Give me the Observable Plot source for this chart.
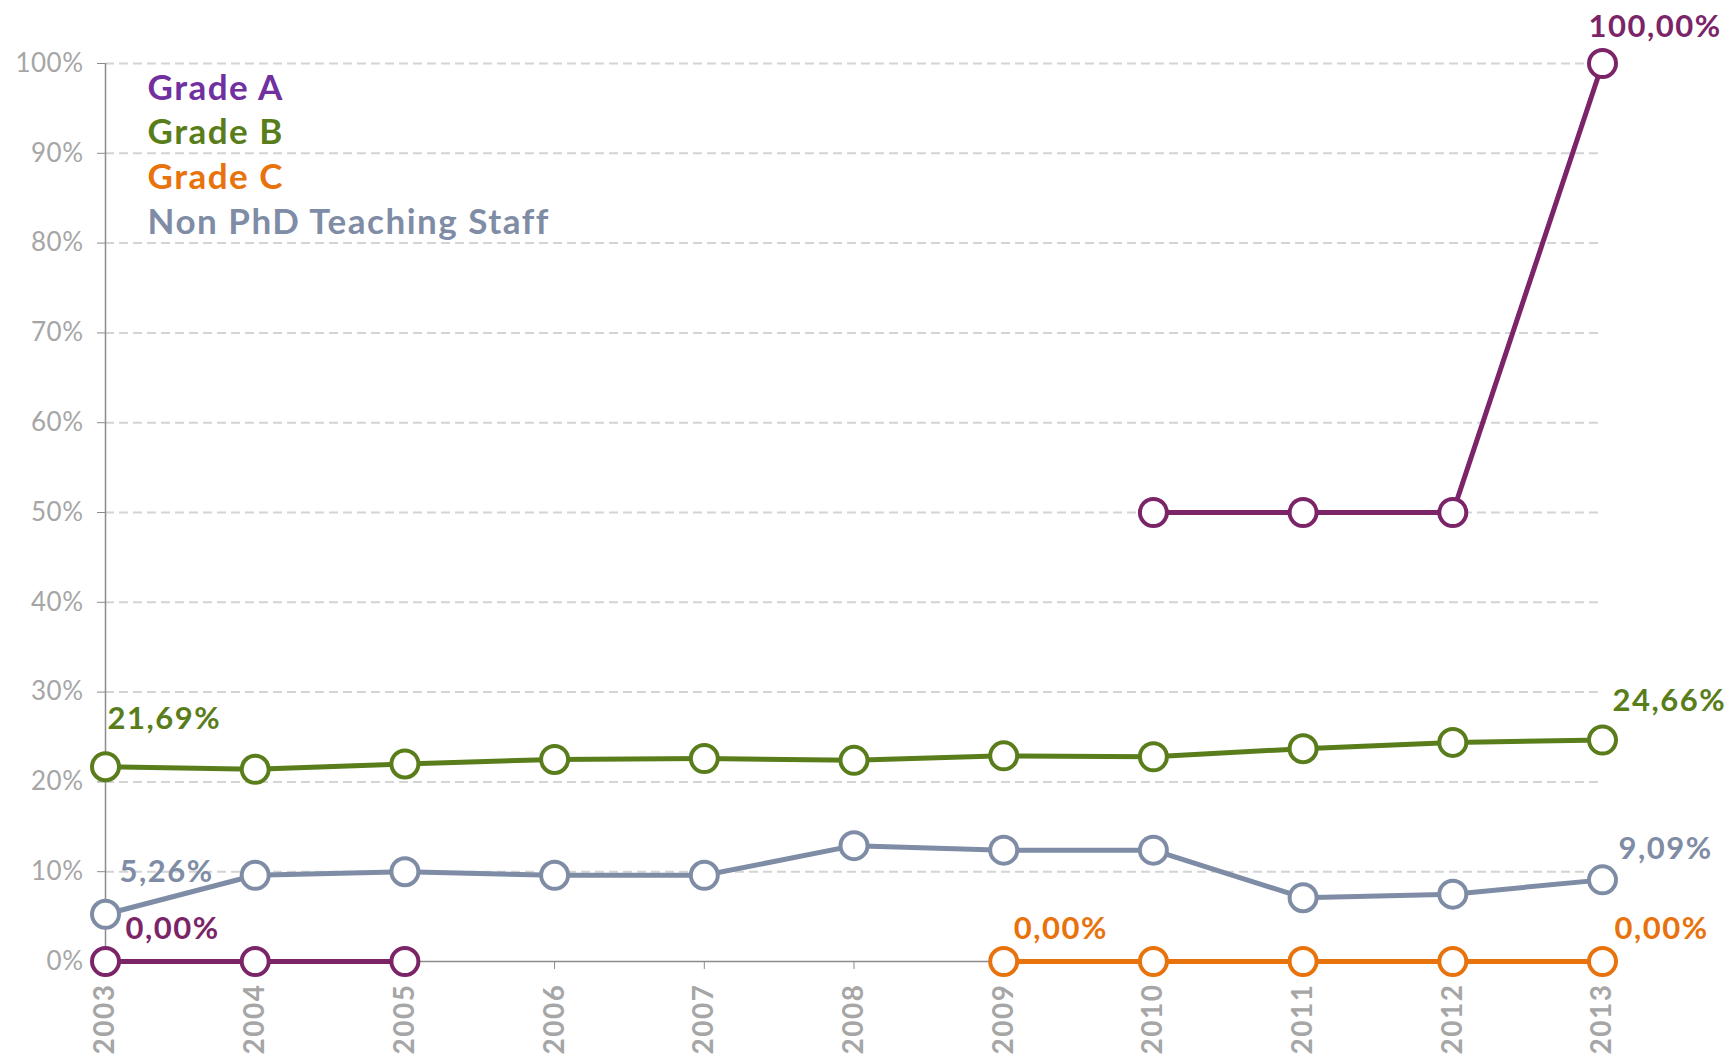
<!DOCTYPE html>
<html><head><meta charset="utf-8">
<script src="https://cdn.jsdelivr.net/npm/d3@7"></script>
<script src="https://cdn.jsdelivr.net/npm/@observablehq/plot@0.6"></script>
<style>
html,body{margin:0;background:#fff;}svg{display:block}
g[font-size="35"] text{letter-spacing:1.5px}
g[font-size="31"] text{letter-spacing:1.5px}
g[font-size="26"] text{letter-spacing:0.5px}
g[font-size="28"] text{letter-spacing:1.5px}
</style>
</head><body><div id="chart"></div>
<script>
const years  = [2003,2004,2005,2006,2007,2008,2009,2010,2011,2012,2013];
const gradeA = [0,0,0,NaN,NaN,NaN,NaN,50,50,50,100];
const gradeB = [21.69,21.4,22.0,22.5,22.6,22.4,22.9,22.8,23.7,24.4,24.66];
const gradeC = [NaN,NaN,NaN,NaN,NaN,NaN,0,0,0,0,0];
const nonPhd = [5.26,9.6,10.0,9.6,9.6,12.9,12.4,12.4,7.1,7.5,9.09];
const seriesNames = ["Grade A","Grade B","Grade C","Non PhD Teaching Staff"];
const yTicks = [0,10,20,30,40,50,60,70,80,90,100];

const cA = "#7b2468", cALeg = "#7030a0", cB = "#5a7d1c", cC = "#e8720c", cN = "#7f8ca5";
const rows = s => years.map((y,i)=>({year:y, v:s[i]}));
const fmt = v => v.toFixed(2).replace(".", ",") + "%";
const pt = (s,i) => [{year: years[i], v: s[i]}];
const font = "Lato, 'Open Sans', sans-serif";

function series(s, color){
  return [
    Plot.line(rows(s), {x:"year", y:"v", stroke:color, strokeWidth:5}),
    Plot.dot(rows(s).filter(d=>!isNaN(d.v)), {x:"year", y:"v", r:13.5, fill:"white", stroke:color, strokeWidth:4})
  ];
}
function label(s, i, color, dx, dy){
  return Plot.text(pt(s,i), {x:"year", y:"v", text:d=>fmt(d.v), fill:color, fontSize:31, fontWeight:"bold", textAnchor:"start", dx, dy});
}
function legend(i, color, dy){
  return Plot.text([seriesNames[i]], {frameAnchor:"top-left", text:d=>d, fill:color, fontSize:35, fontWeight:"bold", textAnchor:"start", lineAnchor:"middle", dx:42, dy});
}

const chart = Plot.plot({
  width:1731, height:1059,
  marginLeft:105, marginRight:129, marginTop:63, marginBottom:98,
  style:{fontFamily:font, background:"#fff"},
  x:{domain:[years[0], years[years.length-1]]},
  y:{domain:[0,100]},
  marks:[
    Plot.gridY(yTicks.slice(1), {stroke:"#d4d4d4", strokeOpacity:1, strokeWidth:2, strokeDasharray:"9,5"}),
    Plot.ruleX([years[0]], {y1:0, y2:100, stroke:"#8c8c8c", strokeWidth:1.5}),
    Plot.ruleY([0], {x1:years[0], x2:years[years.length-1], stroke:"#8c8c8c", strokeWidth:1.5}),
    Plot.axisY(yTicks, {tickFormat:d=>d+"%", tickSize:8, tickPadding:14, fontSize:26, stroke:"#8c8c8c", fill:"#a6a6a6", label:null}),
    Plot.axisX(years, {tickFormat:d=>String(d), tickSize:8, tickPadding:14, tickRotate:-90, fontSize:28, fontWeight:"bold", stroke:"#8c8c8c", fill:"#a6a6a6", label:null}),
    ...series(nonPhd, cN),
    ...series(gradeB, cB),
    ...series(gradeC, cC),
    ...series(gradeA, cA),
    label(gradeB, 0, cB, 2, -48),
    label(nonPhd, 0, cN, 14, -42),
    label(gradeA, 0, cA, 20, -32),
    label(gradeC, 6, cC, 10, -32),
    label(gradeB, 10, cB, 10, -39),
    label(nonPhd, 10, cN, 16, -31),
    label(gradeC, 10, cC, 12, -32),
    label(gradeA, 10, cA, -14, -36),
    legend(0, cALeg, 25),
    legend(1, cB, 69),
    legend(2, cC, 114),
    legend(3, cN, 159)
  ]
});
document.getElementById("chart").append(chart);
</script></body></html>
